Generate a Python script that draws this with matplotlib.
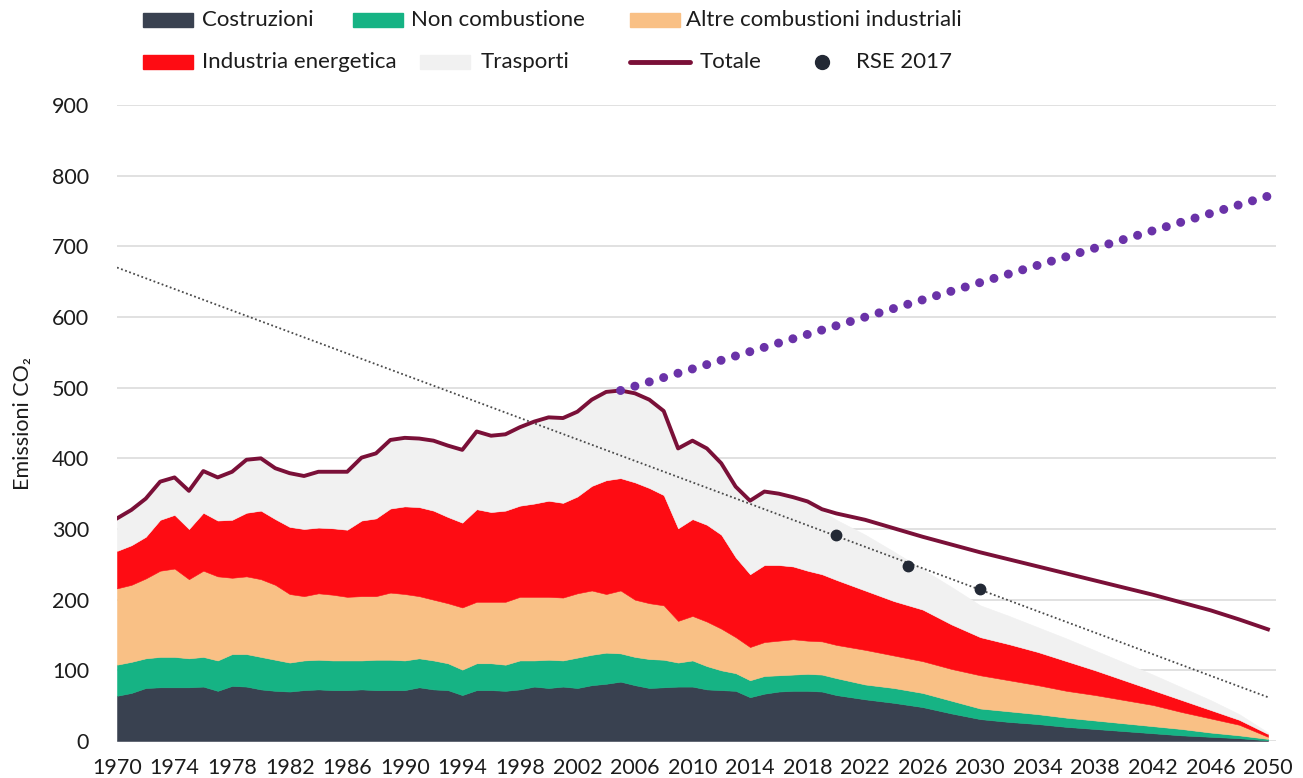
import matplotlib.pyplot as plt
from matplotlib.patches import Rectangle
from matplotlib.lines import Line2D

plt.rcParams['font.family'] = ['Lato', 'DejaVu Sans']

# anni: storico annuale fino al 2020, poi proiezione ogni 2 anni
years = list(range(1970, 2021)) + list(range(2022, 2051, 2))

costruzioni = [64, 68, 75, 76, 76, 76, 77, 71, 78, 77,
               73, 71, 70, 72, 73, 72, 72, 73, 72, 72,
               72, 76, 73, 72, 65, 72, 72, 71, 73, 77,
               75, 77, 75, 79, 81, 84, 79, 75, 76, 77,
               77, 73, 72, 71, 62, 67, 70, 71, 71, 70,
               65,
               59, 54, 48, 39, 31, 27, 24, 20, 17, 14, 11, 8, 6, 4, 1]

non_combustione = [44, 44, 42, 43, 43, 41, 42, 43, 45, 46,
                   46, 44, 41, 42, 42, 42, 42, 41, 43, 43,
                   42, 41, 41, 38, 36, 38, 38, 37, 41, 37,
                   40, 37, 43, 43, 44, 40, 40, 41, 39, 34,
                   37, 33, 28, 25, 24, 25, 23, 23, 24, 24,
                   24,
                   21, 21, 20, 18, 15, 15, 14, 13, 12, 11, 10, 9, 6, 4, 2]

altre_combustioni = [108, 109, 113, 122, 125, 112, 122, 119, 108, 110,
                     110, 106, 97, 91, 94, 93, 90, 91, 90, 95,
                     94, 88, 86, 85, 88, 87, 87, 89, 90, 90,
                     89, 89, 91, 91, 83, 89, 81, 79, 77, 59,
                     63, 63, 59, 51, 47, 48, 49, 50, 47, 47,
                     47,
                     49, 46, 45, 45, 47, 44, 41, 38, 36, 33, 30, 24, 20, 15, 3]

industria_energetica = [53, 56, 59, 72, 76, 71, 82, 79, 82, 90,
                        97, 93, 95, 95, 93, 94, 95, 107, 110, 119,
                        124, 126, 126, 122, 120, 131, 127, 129, 129, 132,
                        136, 134, 137, 148, 161, 159, 166, 163, 156, 131,
                        137, 137, 133, 113, 103, 109, 107, 103, 99, 95,
                        92,
                        84, 77, 73, 63, 54, 51, 47, 42, 35, 28, 21, 17, 12, 7, 4]

trasporti = [46, 50, 54, 54, 53, 54, 59, 61, 68, 75,
             74, 72, 76, 75, 79, 80, 82, 89, 92, 97,
             97, 97, 99, 101, 103, 110, 108, 108, 111, 116,
             118, 120, 120, 122, 125, 124, 126, 125, 119, 113,
             111, 108, 101, 100, 104, 104, 101, 98, 97, 90,
             85,
             79, 70, 57, 53, 45, 40, 35, 32, 28, 25, 22, 18, 14, 8, 2]

totale = [315, 327, 343, 367, 373, 354, 382, 373, 381, 398,
          400, 386, 379, 375, 381, 381, 381, 401, 407, 426,
          429, 428, 425, 418, 412, 438, 432, 434, 444, 452,
          458, 457, 466, 483, 494, 496, 492, 483, 467, 414,
          425, 414, 393, 360, 340, 353, 350, 345, 339, 328,
          322,
          313, 301, 289, 278, 267, 257, 247, 237, 227, 217, 207, 196, 185, 172, 158]

rse_years = [2020, 2025, 2030]
rse_values = [291, 247, 215]

trend_years = [1970, 2050]
trend_values = [670, 62]

proiezione_years = [2005, 2050]
proiezione_values = [496, 771]

c_costr = '#394150'
c_noncomb = '#16b384'
c_altre = '#f9c085'
c_energia = '#fe0c13'
c_trasp = '#f1f1f1'
c_tot = '#7a1038'
c_rse = '#232935'
c_proj = '#6a32a8'
txt = '#1c1c1c'

W, H = 1303, 778
fig = plt.figure(figsize=(W / 100, H / 100), dpi=100)
ax = fig.add_axes([117 / W, 37 / H, (1276 - 117) / W, (741 - 105) / H])

ax.stackplot(years, costruzioni, non_combustione, altre_combustioni,
             industria_energetica, trasporti,
             colors=[c_costr, c_noncomb, c_altre, c_energia, c_trasp],
             edgecolor='face', linewidth=0.4, zorder=2)

ax.plot(trend_years, trend_values, color='#4a4a4a', lw=1.3,
        linestyle=(0, (1, 1.4)), zorder=4)
ax.plot(years, totale, color=c_tot, lw=2.8, solid_joinstyle='round', zorder=5)
ax.plot(rse_years, rse_values, 'o', color=c_rse, ms=7.5, zorder=6)
ax.plot(proiezione_years, proiezione_values, color=c_proj, lw=6.5,
        linestyle=(0, (0.001, 1.66)), dash_capstyle='round', zorder=6)

ax.set_xlim(1970, 2050.56)
ax.set_ylim(0, 900)
ax.set_xticks(range(1970, 2051, 4))
ax.set_yticks(range(0, 901, 100))
ax.grid(axis='y', color='#dcdcdc', lw=1.2)
ax.grid(axis='x', visible=False)
ax.set_axisbelow(True)
for s in ax.spines.values():
    s.set_visible(False)
ax.tick_params(length=0, labelsize=15.5, colors=txt)
ax.tick_params(axis='y', pad=20)
ax.tick_params(axis='x', pad=12)
ax.set_ylabel('Emissioni CO\u2082', fontsize=15.5, color=txt, labelpad=14)


# legenda manuale su due righe
def patch_entry(x, y, color, label, text_x):
    fig.patches.append(Rectangle((x / W, 1 - (y + 7) / H), 50 / W, 14 / H,
                                 transform=fig.transFigure, color=color))
    fig.text(text_x / W, 1 - y / H, label, va='center', fontsize=16, color=txt)


patch_entry(143, 20, c_costr, 'Costruzioni', 202)
patch_entry(353, 20, c_noncomb, 'Non combustione', 411)
patch_entry(630, 20, c_altre, 'Altre combustioni industriali', 686)
patch_entry(143, 62, c_energia, 'Industria energetica', 202)
patch_entry(420, 62, c_trasp, 'Trasporti', 481)

fig.lines.append(Line2D([630 / W, 690 / W], [1 - 62 / H, 1 - 62 / H],
                        transform=fig.transFigure, color=c_tot, lw=3.5,
                        solid_capstyle='round'))
fig.text(700 / W, 1 - 62 / H, 'Totale', va='center', fontsize=16, color=txt)
fig.lines.append(Line2D([822 / W], [1 - 62 / H], transform=fig.transFigure,
                        marker='o', ms=10, color=c_rse, lw=0))
fig.text(856 / W, 1 - 62 / H, 'RSE 2017', va='center', fontsize=16, color=txt)

fig.savefig('out.png', dpi=100)
